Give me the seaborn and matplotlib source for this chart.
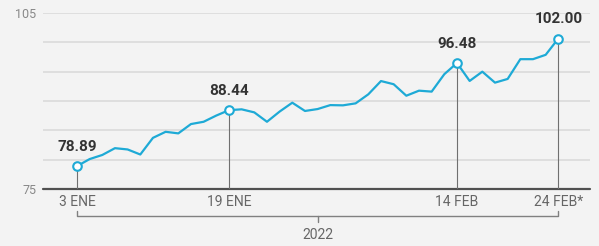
import seaborn as sns
import pandas as pd
import numpy as np
import matplotlib.pyplot as plt

# trading-day index series, Jan 3 .. Feb 24 2022
values = [78.89, 80.1, 80.8, 81.96, 81.74, 80.88, 83.72, 84.75, 84.48, 86.07,
          86.46, 87.52, 88.44, 88.58, 88.06, 86.46, 88.2, 89.71, 88.3, 88.63,
          89.3, 89.26, 89.6, 91.14, 93.4, 92.86, 90.9, 91.76, 91.6, 94.57,
          96.48, 93.42, 95.0, 93.13, 93.76, 97.13, 97.13, 97.87, 100.65]
highlight_idx = [0, 12, 30, 38]
highlight_labels = ["78.89", "88.44", "96.48", "102.00"]
tick_labels = ["3 ENE", "19 ENE", "14 FEB", "24 FEB*"]
year_label = "2022"

df = pd.DataFrame({"day": np.arange(len(values)), "value": values})

sns.set_style("white")
plt.rcParams["font.family"] = ["Roboto", "DejaVu Sans"]

bg = "#f3f3f3"
line_col = "#1eaad6"

fig = plt.figure(figsize=(5.99, 2.46), dpi=100, facecolor=bg)
ax = fig.add_axes([43 / 599, 1 - 189 / 246, (590 - 43) / 599, (189 - 13) / 246])
ax.set_facecolor(bg)

ax.set_xlim(-2.68, 40.5)
ax.set_ylim(75, 105)

# grid
for g in [80, 85, 90, 95, 100, 105]:
    ax.axhline(g, color="#dcdcdc", lw=1.3, zorder=0)
ax.axhline(75, color="#505050", lw=1.6, zorder=1, clip_on=False)

# drop lines
hx = df["day"].iloc[highlight_idx]
hy = df["value"].iloc[highlight_idx]
ax.vlines(hx, 75, hy, color="#707070", lw=0.8, zorder=1)

sns.lineplot(data=df, x="day", y="value", ax=ax, color=line_col, lw=1.6, zorder=3)
ax.scatter(hx, hy, s=38, facecolor="white", edgecolor=line_col, linewidth=1.5, zorder=4)

for x, y, lab in zip(hx, hy, highlight_labels):
    ax.annotate(lab, (x, y), xytext=(0, 14), textcoords="offset points",
                ha="center", va="center", fontsize=11, fontweight="bold", color="#333333")

ax.set_xticks(list(hx))
ax.set_xticklabels(tick_labels, fontsize=10, color="#666666")
ax.set_yticks([75, 105])
ax.set_yticklabels(["75", "105"], fontsize=9, color="#888888")
ax.tick_params(length=0, pad=4)
ax.tick_params(axis="y", pad=5)
ax.set_xlabel("")
ax.set_ylabel("")
for s in ax.spines.values():
    s.set_visible(False)

# year bracket
x0, x1 = hx.iloc[0], hx.iloc[-1]
xm = (x0 + x1) / 2
ax.plot([x0, x0, x1, x1], [71.2, 70.4, 70.4, 71.2], color="#808080", lw=1.0, clip_on=False)
ax.plot([xm, xm], [70.4, 69.4], color="#808080", lw=1.0, clip_on=False)
ax.text(xm, 67.1, year_label, ha="center", va="center", fontsize=10, color="#666666")

fig.savefig("out.png", dpi=100, facecolor=bg)
